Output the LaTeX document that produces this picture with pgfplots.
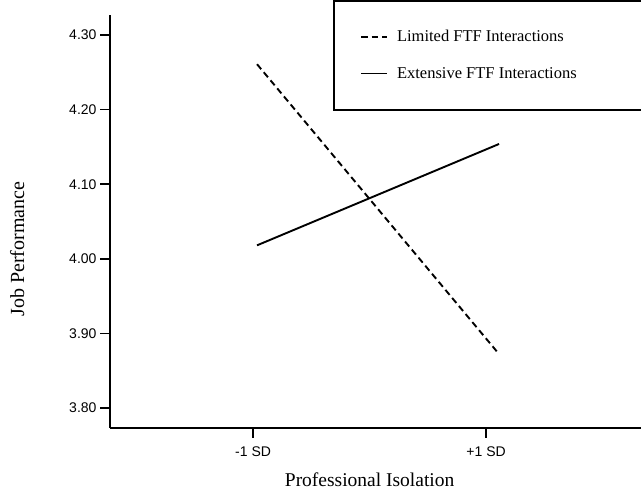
\documentclass[border=0pt]{standalone}
\usepackage{pgfplots}
\pgfplotsset{compat=1.18}
\usepackage{fontspec}
\setmainfont{Liberation Serif}
\newfontfamily\arial{Liberation Sans}
\begin{document}
\begin{tikzpicture}
\begin{axis}[
  scale only axis,
  width=531pt, height=413pt,
  xmin=-0.614, xmax=1.665,
  ymin=3.773, ymax=4.327,
  axis x line*=bottom, axis y line*=left,
  axis line style={line width=1.4pt,-},
  xtick={0,1}, xticklabels={-1 SD,+1 SD},
  ytick={3.8,3.9,4.0,4.1,4.2,4.3},
  yticklabel style={/pgf/number format/.cd,fixed,fixed zerofill,precision=2,assume math mode=true},
  xticklabel style={yshift=-5pt},
  tick label style={font=\arial\fontsize{14}{16}\selectfont},
  tick align=outside,
  major tick length=10pt,
  tick style={line width=1.6pt,black},
  xlabel={Professional Isolation},
  ylabel={Job Performance},
  xlabel style={font=\fontsize{19.5}{22}\selectfont, at={(axis description cs:0.489,-0.126)}, anchor=center},
  ylabel style={font=\fontsize{20}{22}\selectfont, at={(axis description cs:-0.175,0.433)}, anchor=center, rotate=0},
  legend style={at={(rel axis cs:0.465,0.973)}, anchor=north west, draw=none, fill=none,
    font=\fontsize{16.5}{19}\selectfont, row sep=20pt, cells={anchor=west},
    /tikz/every odd column/.append style={column sep=7pt}},
  legend image code/.code={\draw[#1, line width=1.9pt] (0pt,0pt) -- (26pt,0pt);},
  clip=false,
]
\addplot[black, line width=1.9pt, dash pattern=on 6.5pt off 4pt] coordinates {(0.017,4.261) (1.056,3.872)};
\addlegendentry{Limited FTF Interactions}
\addplot[black, line width=1.9pt] coordinates {(0.017,4.018) (1.056,4.154)};
\addlegendentry{Extensive FTF Interactions}
\draw[line width=1.2pt] (rel axis cs:0.422,1.034) rectangle (rel axis cs:1.02,0.770);
\coordinate (bbsw) at (rel axis cs:-0.2072,-0.155);
\coordinate (bbne) at (rel axis cs:1,1.0363);
\end{axis}
\pgfresetboundingbox
\path[use as bounding box] (bbsw) rectangle (bbne);
\end{tikzpicture}
\end{document}
